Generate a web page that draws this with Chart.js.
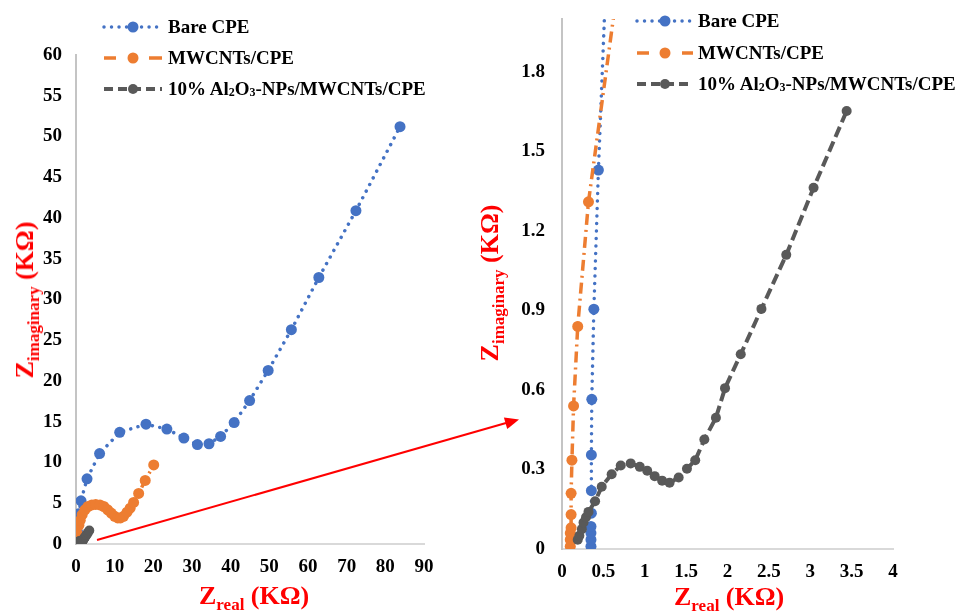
<!DOCTYPE html>
<html>
<head>
<meta charset="utf-8">
<title>Nyquist plots</title>
<script src="https://cdn.jsdelivr.net/npm/chart.js@4.4.1/dist/chart.umd.min.js"></script>
<style>
  body { margin: 0; background: #fff; }
  #page { position: relative; width: 961px; height: 611px; overflow: hidden;
          font-family: "Liberation Serif", "Times New Roman", serif; font-weight: bold; }
  canvas { position: absolute; top: 0; }
  #leftChart { left: 0; }
  #rightChart { left: 470px; }
  .legend-row { position: absolute; height: 22px; line-height: 22px; font-size: 19px; color: #000; white-space: nowrap; }
  .legend-row svg { position: absolute; left: 0; top: 0; overflow: visible; }
  .legend-row span { position: absolute; top: 0; }
  .legend-row sub { font-size: 12px; line-height: 0; vertical-align: -1px; }
  .axis-title { position: absolute; color: #f00; font-size: 26px; line-height: 30px; white-space: nowrap; }
  .axis-title sub { font-size: 17px; line-height: 0; vertical-align: -6px; }
  .y-title { transform: translate(-50%, -50%) rotate(-90deg); }
  #arrow { position: absolute; left: 0; top: 0; }
</style>
</head>
<body>
<div id="page">
  <canvas id="leftChart" width="470" height="611"></canvas>
  <canvas id="rightChart" width="491" height="611"></canvas>

  <div class="axis-title" style="left:199px; top:581px;">Z<sub>real</sub> (KΩ)</div>
  <div class="axis-title y-title" style="left:25px; top:300px;">Z<sub>imaginary</sub> (KΩ)</div>
  <div class="axis-title" style="left:674px; top:582px;">Z<sub>real</sub> (KΩ)</div>
  <div class="axis-title y-title" style="left:490px; top:283px;">Z<sub>imaginary</sub> (KΩ)</div>

  <svg id="arrow" width="961" height="611">
    <line x1="97" y1="540" x2="506" y2="423" stroke="#f00" stroke-width="2"/>
    <polygon points="519,419.5 503.9,417.5 507.2,429.1" fill="#f00"/>
  </svg>
</div>

<script>
// series names (html for the legend)
var seriesNames = ['Bare CPE', 'MWCNTs/CPE', '10% Al<sub>2</sub>O<sub>3</sub>-NPs/MWCNTs/CPE'];

// Bare CPE  (Z real, Z imaginary in kOhm)
var bareX = [0.35, 0.35, 0.35, 0.35, 0.355, 0.355, 0.355, 0.36, 0.385, 0.44, 0.55, 0.7, 1.3, 2.85, 6.1,
             11.3, 18.1, 23.5, 27.9, 31.4, 34.4, 37.4, 40.9, 44.9, 49.7, 55.7, 62.8, 72.4, 83.8];
var bareY = [0.01, 0.035, 0.06, 0.085, 0.135, 0.22, 0.355, 0.565, 0.905, 1.43, 2.3, 3.7, 5.3, 8.0, 11.1,
             13.7, 14.7, 14.1, 13.0, 12.2, 12.3, 13.2, 14.9, 17.6, 21.3, 26.3, 32.7, 40.9, 51.2];

// MWCNTs/CPE
var mwX = [0.1, 0.1, 0.1, 0.11, 0.11, 0.11, 0.12, 0.14, 0.19, 0.32, 0.75, 1.1, 1.6, 2.3, 3.1, 4.1, 5.1, 6.2,
           7.2, 8.2, 9.1, 10.0, 10.8, 11.5, 12.3, 13.2, 14.0, 14.9, 16.2, 17.9, 20.1];
var mwY = [0.01, 0.035, 0.06, 0.08, 0.13, 0.21, 0.335, 0.54, 0.84, 1.31, 2.3, 2.9, 3.6, 4.2, 4.6, 4.8, 4.85, 4.8,
           4.6, 4.2, 3.8, 3.4, 3.2, 3.2, 3.4, 3.9, 4.4, 5.1, 6.2, 7.8, 9.7];

// 10% Al2O3-NPs/MWCNTs/CPE
var alX = [0.19, 0.21, 0.24, 0.26, 0.29, 0.32, 0.40, 0.48, 0.60, 0.71, 0.83, 0.94, 1.03, 1.12, 1.21, 1.30,
           1.41, 1.51, 1.61, 1.72, 1.86, 1.97, 2.16, 2.41, 2.71, 3.04, 3.44];
var alY = [0.035, 0.05, 0.075, 0.1, 0.12, 0.14, 0.18, 0.235, 0.282, 0.315, 0.323, 0.31, 0.295, 0.275, 0.258, 0.25,
           0.27, 0.303, 0.335, 0.413, 0.495, 0.607, 0.735, 0.906, 1.11, 1.363, 1.653];

// axis ranges / tick steps
var leftXTicks = { min: 0, max: 90, step: 10 };
var leftYTicks = { min: 0, max: 60, step: 5 };
var rightXTicks = { min: 0, max: 4, step: 0.5 };
var rightYTicks = { min: 0, max: 2, step: 0.3 };

function toPoints(xs, ys) {
    return xs.map(function (x, i) { return { x: x, y: ys[i] }; });
}

var styles = [
    { color: '#4472C4', width: 3.5, dash: [0.01, 7.5], legendDash: [0.01, 7.5], cap: 'round', radius: 5.5, order: 3 },
    { color: '#ED7D31', width: 3.5, dash: [11, 5, 2, 5], legendDash: [12, 33, 13], cap: 'butt', radius: 5.5, order: 2 },
    { color: '#595959', width: 4, dash: [11, 5], legendDash: [9, 5], cap: 'butt', radius: 5, order: 1 }
];
var allPoints = [toPoints(bareX, bareY), toPoints(mwX, mwY), toPoints(alX, alY)];

function makeDatasets() {
    return allPoints.map(function (pts, i) {
        var s = styles[i];
        return {
            label: seriesNames[i].replace(/<[^>]+>/g, ''),
            data: pts,
            showLine: true,
            borderColor: s.color,
            backgroundColor: s.color,
            borderWidth: s.width,
            borderDash: s.dash,
            borderCapStyle: s.cap,
            pointRadius: s.radius,
            pointBorderWidth: 0,
            pointBackgroundColor: s.color,
            order: s.order
        };
    });
}

var tickFont = { family: '"Liberation Serif", "Times New Roman", serif', size: 19, weight: 'bold' };
function fmt(v) { return String(+v.toFixed(2)); }

// keep the plot area exactly where the layout padding puts it
function noOverhang(s) {
    s.paddingTop = 0; s.paddingBottom = 0; s.paddingLeft = 0; s.paddingRight = 0;
}

function buildChart(id, o) {
    var ctx = document.getElementById(id).getContext('2d');
    return new Chart(ctx, {
        type: 'scatter',
        data: { datasets: makeDatasets() },
        options: {
            responsive: false,
            animation: false,
            layout: { padding: o.padding },
            plugins: { legend: { display: false }, tooltip: { enabled: false } },
            scales: {
                x: {
                    type: 'linear',
                    min: o.x.min, max: o.x.max,
                    grid: { display: false, drawTicks: false },
                    border: { color: '#d9d9d9', width: 2 },
                    ticks: { stepSize: o.x.step, color: '#000', font: tickFont, padding: 12,
                             maxRotation: 0, autoSkip: false, includeBounds: false, callback: fmt },
                    afterFit: function (s) { s.height = o.xHeight; noOverhang(s); }
                },
                y: {
                    type: 'linear',
                    min: o.y.min, max: o.y.max,
                    grid: { display: false, drawTicks: false },
                    border: { color: '#c4c4c4', width: 2 },
                    ticks: { stepSize: o.y.step, color: '#000', font: tickFont, padding: o.yPad,
                             includeBounds: false, callback: fmt },
                    afterFit: function (s) { s.width = o.yWidth; noOverhang(s); }
                }
            }
        }
    });
}

var leftChart = buildChart('leftChart', {
    x: leftXTicks, y: leftYTicks,
    padding: { left: 0, top: 55, right: 46, bottom: 0 },
    xHeight: 67, yWidth: 76, yPad: 14
});
var rightChart = buildChart('rightChart', {
    x: rightXTicks, y: rightYTicks,
    padding: { left: 0, top: 19, right: 68, bottom: 0 },
    xHeight: 62, yWidth: 92, yPad: 17
});

// html legends, samples built from the dataset styles
function addLegend(chart, pos) {
    var page = document.getElementById('page');
    chart.data.datasets.forEach(function (ds, i) {
        var row = document.createElement('div');
        row.className = 'legend-row';
        row.style.left = pos.x + 'px';
        row.style.top = (pos.rows[i] - 11) + 'px';
        var svg = '<svg width="' + pos.w + '" height="22">' +
            '<line x1="0" y1="11" x2="' + pos.w + '" y2="11" stroke="' + ds.borderColor +
            '" stroke-width="' + ds.borderWidth + '" stroke-dasharray="' + styles[i].legendDash.join(' ') +
            '" stroke-linecap="' + ds.borderCapStyle + '"/>' +
            '<circle cx="' + (pos.w / 2) + '" cy="11" r="' + ds.pointRadius + '" fill="' + ds.borderColor + '"/></svg>';
        row.innerHTML = svg + '<span style="left:' + (pos.textX - pos.x) + 'px">' + seriesNames[i] + '</span>';
        page.appendChild(row);
    });
}
addLegend(leftChart, { x: 104, w: 58, textX: 168, rows: [27, 58, 89] });
addLegend(rightChart, { x: 637, w: 56, textX: 698, rows: [21, 53, 84] });
</script>
</body>
</html>
